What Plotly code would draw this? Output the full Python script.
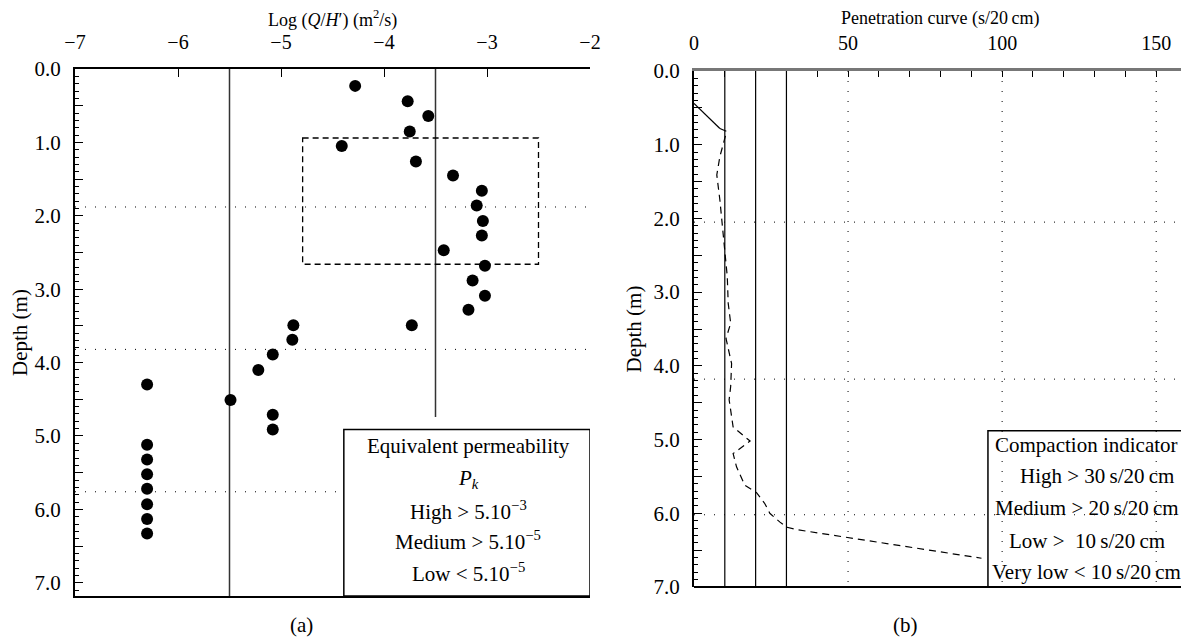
import plotly.graph_objects as go

# panel (a): log(Q/H') against depth
logq = [-4.28, -3.77, -3.57, -3.75, -4.41, -3.69, -3.33, -3.05, -3.10, -3.04,
        -3.05, -3.42, -3.02, -3.14, -3.02, -3.18, -4.88, -3.73, -4.89, -5.08,
        -5.22, -6.30, -5.49, -5.08, -5.08, -6.30, -6.30, -6.30, -6.30, -6.30,
        -6.30, -6.30]
depth_a = [0.23, 0.44, 0.64, 0.85, 1.05, 1.26, 1.45, 1.66, 1.86, 2.07,
           2.27, 2.47, 2.68, 2.88, 3.09, 3.28, 3.49, 3.49, 3.69, 3.89,
           4.10, 4.30, 4.51, 4.71, 4.91, 5.12, 5.32, 5.52, 5.72, 5.93,
           6.13, 6.33]
perm_lines = [-5.5, -3.5]
perm_line_end = [7.18, 4.74]
zone_x = [-4.79, -2.5]
zone_y = [0.94, 2.66]
grid_a = [1.88, 3.82, 5.76]
legend_a = ["Equivalent permeability", "<i>P<sub>k</sub></i>",
            "High &gt; 5.10<sup>−3</sup>", "Medium &gt; 5.10<sup>−5</sup>",
            "Low &lt; 5.10<sup>−5</sup>"]

# panel (b): penetration curve
pen_solid = [0, 8.4]
depth_solid = [0.44, 0.78]
pen = [8.4, 10.6, 8.4, 7.4, 8.4, 9.0, 9.7, 10.8, 11.1, 11.9, 10.4, 12.2, 11.9,
       11.4, 12.7, 18.2, 12.7, 13.8, 16.5, 20.3, 23.0, 24.6, 27.9, 30.2, 33.1, 93.3]
depth_b = [0.78, 0.82, 1.16, 1.41, 1.75, 2.02, 2.34, 2.79, 3.15, 3.42, 3.63, 3.97, 4.28,
           4.46, 4.83, 5.02, 5.19, 5.37, 5.62, 5.72, 5.87, 6.00, 6.12, 6.19, 6.22, 6.61]
compaction_lines = [10, 20, 30]
grid_b_x = [50, 100, 150]
grid_b_y = [2.05, 4.18, 6.02]
legend_b = ["Compaction indicator", "High &gt; 30\u2009s/20\u2009cm",
            "Medium &gt; 20\u2009s/20\u2009cm", "Low &gt;  10\u2009s/20\u2009cm",
            "Very low &lt; 10\u2009s/20\u2009cm"]

FONT = "Liberation Serif"
W, H = 1189, 641
OFF = 8  # page body margin


def px_x(sx):
    return (sx - OFF) / W


def px_y(sy):
    return 1 - (sy - OFF) / H


fig = go.Figure()

for xv, yend in zip(perm_lines, perm_line_end):
    fig.add_trace(go.Scatter(x=[xv, xv], y=[0, yend], mode="lines",
                             line=dict(color="#333", width=1.5),
                             xaxis="x", yaxis="y", hoverinfo="skip"))
fig.add_trace(go.Scatter(x=logq, y=depth_a, mode="markers",
                         marker=dict(color="black", size=12),
                         xaxis="x", yaxis="y"))

for xv in compaction_lines:
    fig.add_trace(go.Scatter(x=[xv, xv], y=[0, 7], mode="lines",
                             line=dict(color="black", width=1.2),
                             xaxis="x2", yaxis="y2", hoverinfo="skip"))
fig.add_trace(go.Scatter(x=pen_solid, y=depth_solid, mode="lines",
                         line=dict(color="black", width=1.2),
                         xaxis="x2", yaxis="y2"))
fig.add_trace(go.Scatter(x=pen, y=depth_b, mode="lines",
                         line=dict(color="black", width=1.2, dash="7px,5px"),
                         xaxis="x2", yaxis="y2"))

shapes = []
dotted = dict(color="black", width=1, dash="1px,9px")
for g in grid_a:
    shapes.append(dict(type="line", xref="x", yref="y", x0=-7, x1=-2, y0=g, y1=g,
                       line=dotted, layer="below"))
shapes.append(dict(type="rect", xref="x", yref="y", x0=zone_x[0], x1=zone_x[1],
                   y0=zone_y[0], y1=zone_y[1],
                   line=dict(color="black", width=1.3, dash="6px,4px")))
shapes.append(dict(type="rect", xref="x", yref="y", x0=-4.39, x1=-2, y0=4.91, y1=7.18,
                   line=dict(color="black", width=1.5), fillcolor="white"))
for g in grid_b_y:
    shapes.append(dict(type="line", xref="x2", yref="y2", x0=0, x1=160, y0=g, y1=g,
                       line=dotted, layer="below"))
for g in grid_b_x:
    shapes.append(dict(type="line", xref="x2", yref="y2", x0=g, x1=g, y0=0, y1=7,
                       line=dotted, layer="below"))
shapes.append(dict(type="rect", xref="x2", yref="y2", x0=95.4, x1=160, y0=4.88, y1=7,
                   line=dict(color="black", width=1.5)))
shapes.append(dict(type="line", xref="x2 domain", yref="y2 domain", x0=0, x1=1, y0=0, y1=0,
                   line=dict(color="black", width=2)))

annotations = []
for txt, yv in zip(legend_a, [5.14, 5.59, 6.02, 6.43, 6.86]):
    annotations.append(dict(text=txt, xref="x", yref="y", x=-3.18, y=yv, showarrow=False,
                            font=dict(family=FONT, size=21, color="black")))
for txt, xv, yv in zip(legend_b, [127.4, 130.9, 127.4, 127.4, 127.4],
                       [5.07, 5.50, 5.93, 6.37, 6.80]):
    annotations.append(dict(text=txt, xref="x2", yref="y2", x=xv, y=yv, showarrow=False,
                            font=dict(family=FONT, size=21, color="black")))
for txt, sx in [("(a)", 301), ("(b)", 905)]:
    annotations.append(dict(text=txt, xref="paper", yref="paper", x=px_x(sx), y=px_y(625),
                            xanchor="center", yanchor="middle", showarrow=False,
                            font=dict(family=FONT, size=21, color="black")))
# top axis titles
for txt, sx in [("Log (<i>Q</i>/<i>H</i>′) (m<sup>2</sup>/s)", 332),
                ("Penetration curve (s/20\u2009cm)", 940)]:
    annotations.append(dict(text=txt, xref="paper", yref="paper", x=px_x(sx), y=px_y(19),
                            xanchor="center", yanchor="middle", showarrow=False,
                            font=dict(family=FONT, size=18, color="black")))

xtickfont = dict(family=FONT, size=20, color="black")
tickfont = dict(family=FONT, size=21, color="black")
titlefont = dict(family=FONT, size=21, color="black")
ytv = [i * 0.5 for i in range(15)]
ytt = ["%.1f" % v if v == int(v) else "" for v in ytv]
minor_y = dict(tickmode="linear", tick0=0, dtick=0.1, ticklen=4, ticks="inside",
               tickcolor="black", tickwidth=1)

fig.update_layout(
    width=W, height=H, margin=dict(l=0, r=0, t=0, b=0),
    paper_bgcolor="white", plot_bgcolor="white", showlegend=False,
    font=dict(family=FONT, color="black"),
    shapes=shapes, annotations=annotations,
    xaxis=dict(domain=[px_x(75), px_x(590)], range=[-7, -2], side="top", dtick=1,
               ticks="inside", ticklen=8, tickcolor="black", showgrid=False, zeroline=False,
               showline=True, linecolor="black", linewidth=2, mirror=True,
               tickfont=xtickfont, anchor="y", automargin=False, ticklabelstandoff=10),
    yaxis=dict(domain=[px_y(596), px_y(69)], range=[7.18, 0], tickmode="array",
               tickvals=ytv, ticktext=ytt, ticks="inside", ticklen=8, tickcolor="black",
               minor=minor_y, showgrid=False, zeroline=False, showline=True,
               linecolor="black", linewidth=2, tickfont=tickfont, anchor="x",
               ticklabelstandoff=8, automargin=False,
               title=dict(text="Depth (m)", font=titlefont, standoff=6)),
    xaxis2=dict(domain=[px_x(694), px_x(1187)], range=[0, 160], side="top", tickmode="array",
                tickvals=list(range(0, 161, 10)),
                ticktext=[str(v) if v % 50 == 0 else "" for v in range(0, 161, 10)],
                ticks="inside", ticklen=6, tickcolor="black", showgrid=False, zeroline=False,
                showline=True, linecolor="#777", linewidth=3, tickfont=xtickfont, anchor="y2",
                automargin=False, ticklabelstandoff=10),
    yaxis2=dict(domain=[px_y(587), px_y(71)], range=[7, 0], tickmode="array",
                tickvals=ytv, ticktext=ytt, ticks="inside", ticklen=8, tickcolor="black",
                minor=minor_y, showgrid=False, zeroline=False, showline=True,
                linecolor="black", linewidth=2, mirror=True, tickfont=tickfont, anchor="x2",
                ticklabelstandoff=8, automargin=False,
                title=dict(text="Depth (m)", font=titlefont, standoff=6)),
)

fig.write_html("out.html")
